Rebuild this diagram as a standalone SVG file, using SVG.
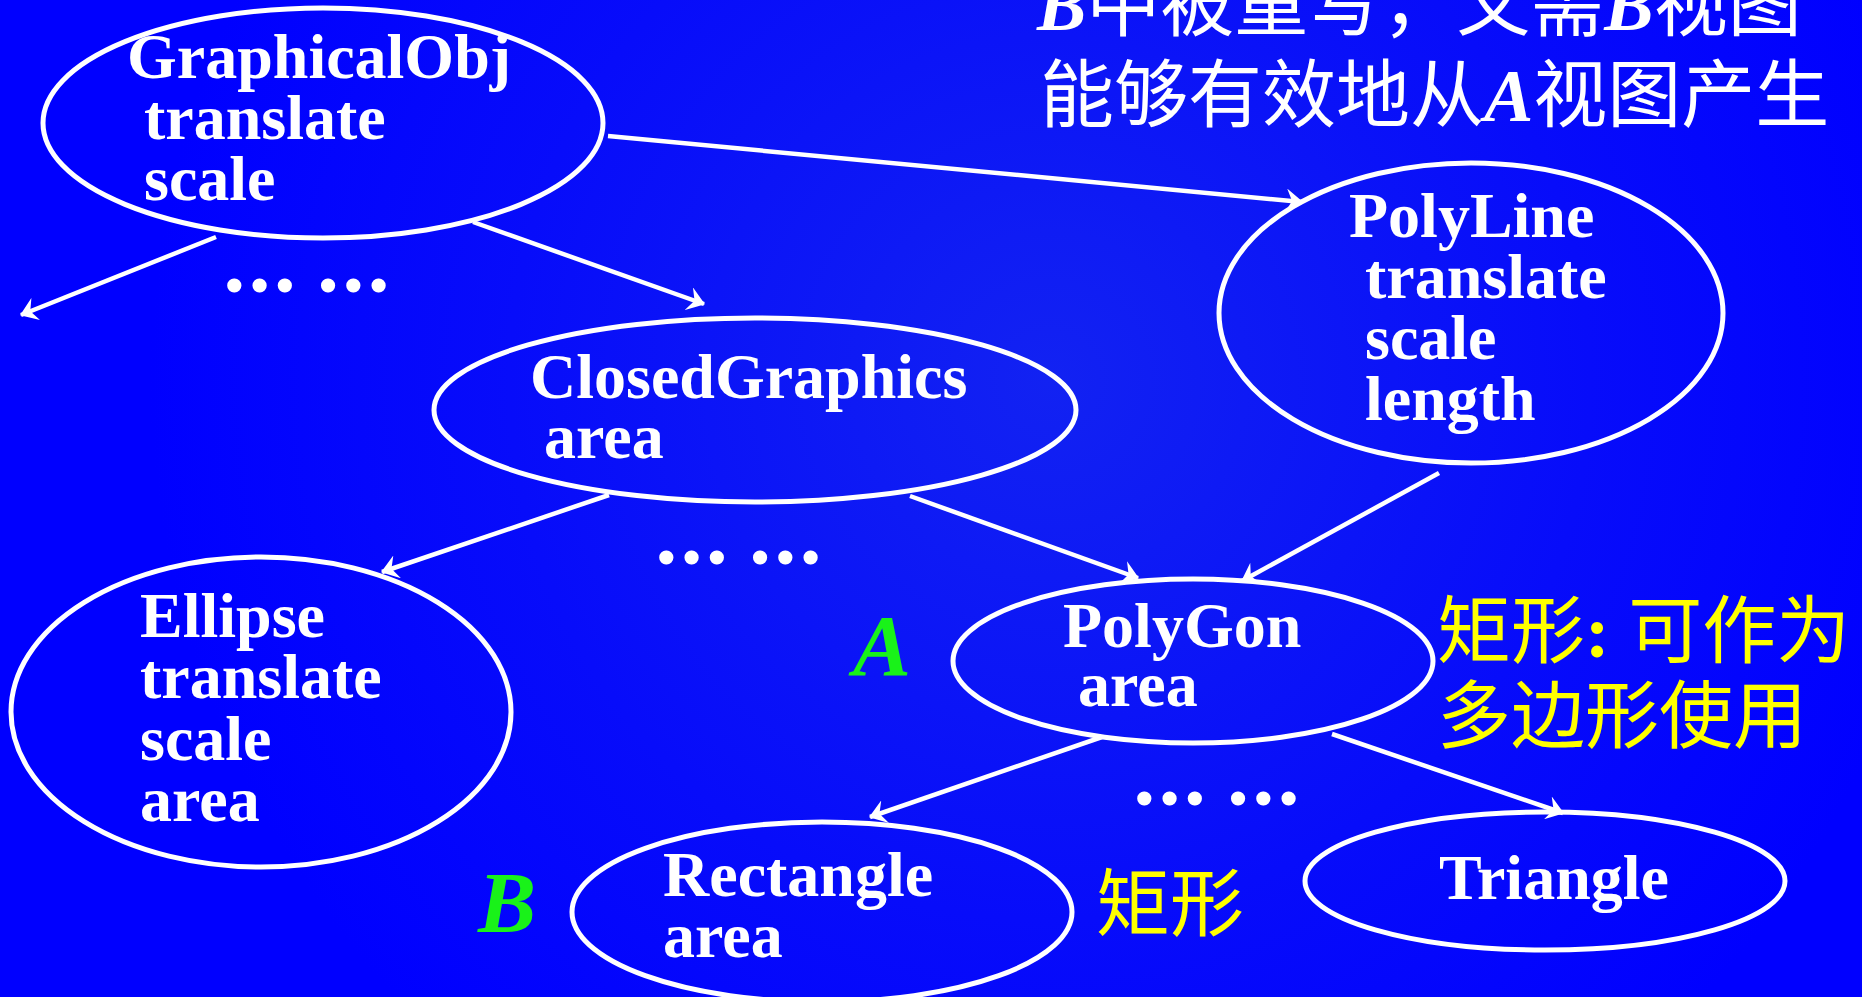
<svg xmlns="http://www.w3.org/2000/svg" width="1862" height="997" viewBox="0 0 1862 997">
  <defs>
    <radialGradient id="bg" cx="1050" cy="380" r="900" gradientUnits="userSpaceOnUse">
      <stop offset="0" stop-color="#1222f2"/>
      <stop offset="0.6" stop-color="#070cfa"/>
      <stop offset="1" stop-color="#0000ff"/>
    </radialGradient>
    <marker id="arr" viewBox="0 0 17 24" refX="16" refY="12" markerWidth="17" markerHeight="24" markerUnits="userSpaceOnUse" orient="auto">
      <path d="M0,0 L17,12 L0,24 L6,12 Z" fill="#ffffff"/>
    </marker>
    <style>
      .el { fill: none; stroke: #ffffff; stroke-width: 5; }
      .cn { fill: none; stroke: #ffffff; stroke-width: 4.5; marker-end: url(#arr); }
      .t { font-family: "Liberation Serif", "Times New Roman", serif; font-weight: bold; font-size: 64px; fill: #ffffff; }
      .dots { font-family: "Liberation Serif", "Times New Roman", serif; font-weight: bold; font-size: 75px; fill: #ffffff; stroke: #ffffff; stroke-width: 2; }
      .lab { font-family: "Liberation Serif", "Times New Roman", serif; font-weight: bold; font-style: italic; font-size: 87px; fill: #19f219; }
      .cw { font-family: "Noto Sans CJK SC", "Liberation Serif", sans-serif; font-size: 74px; fill: #ffffff; }
      .cy { font-family: "Noto Sans CJK SC", "Liberation Serif", sans-serif; font-size: 74px; fill: #ffff00; }
      .it { font-family: "Liberation Serif", "Times New Roman", serif; font-weight: bold; font-style: italic; }
    </style>
  </defs>

  <rect x="0" y="0" width="1862" height="997" fill="url(#bg)"/>

  <g id="connectors">
    <line class="cn" x1="216" y1="237" x2="21" y2="315"/>
    <line class="cn" x1="473" y1="222" x2="704" y2="304"/>
    <line class="cn" x1="608" y1="136" x2="1302" y2="202"/>
    <line class="cn" x1="609" y1="495" x2="382" y2="572"/>
    <line class="cn" x1="910" y1="496" x2="1138" y2="578"/>
    <line class="cn" x1="1439" y1="473" x2="1242" y2="581"/>
    <line class="cn" x1="1102" y1="737" x2="870" y2="817"/>
    <line class="cn" x1="1332" y1="734" x2="1563" y2="813"/>
  </g>

  <g id="graphicalobj">
    <ellipse class="el" cx="323" cy="123" rx="280" ry="115"/>
    <text class="t" x="127" y="78">GraphicalObj</text>
    <text class="t" x="144" y="139">translate</text>
    <text class="t" x="144" y="200">scale</text>
  </g>

  <g id="polyline">
    <ellipse class="el" cx="1471" cy="313" rx="252" ry="150"/>
    <text class="t" x="1349" y="237">PolyLine</text>
    <text class="t" x="1365" y="298">translate</text>
    <text class="t" x="1365" y="359">scale</text>
    <text class="t" x="1365" y="420">length</text>
  </g>

  <g id="closedgraphics">
    <ellipse class="el" cx="755" cy="410" rx="321" ry="92"/>
    <text class="t" x="530" y="398">ClosedGraphics</text>
    <text class="t" x="544" y="458">area</text>
  </g>

  <g id="ellipse">
    <ellipse class="el" cx="261" cy="712" rx="250" ry="155"/>
    <text class="t" x="140" y="637">Ellipse</text>
    <text class="t" x="140" y="698">translate</text>
    <text class="t" x="140" y="760">scale</text>
    <text class="t" x="140" y="821">area</text>
  </g>

  <g id="polygon">
    <ellipse class="el" cx="1193" cy="661" rx="240" ry="82"/>
    <text class="t" x="1063" y="647">PolyGon</text>
    <text class="t" x="1078" y="706">area</text>
  </g>

  <g id="rectangle">
    <ellipse class="el" cx="822" cy="912" rx="250" ry="90"/>
    <text class="t" x="663" y="896">Rectangle</text>
    <text class="t" x="663" y="957">area</text>
  </g>

  <g id="triangle">
    <ellipse class="el" cx="1545" cy="881" rx="240" ry="69"/>
    <text class="t" x="1439" y="899">Triangle</text>
  </g>

  <g id="dots">
    <text class="dots" x="222" y="291">… …</text>
    <text class="dots" x="654" y="563">… …</text>
    <text class="dots" x="1132" y="804">… …</text>
  </g>

  <g id="labels">
    <text class="lab" x="853" y="675">A</text>
    <text class="lab" x="478" y="932">B</text>
  </g>

  <g id="notes">
    <text class="cw" x="1037" y="30"><tspan class="it">B</tspan>中被重写，又需<tspan class="it">B</tspan>视图</text>
    <text class="cw" x="1040" y="121">能够有效地从<tspan class="it">A</tspan>视图产生</text>
    <text class="cy" x="1437" y="657">矩形<tspan font-family="Liberation Serif, serif" font-weight="bold">: </tspan>可作为</text>
    <text class="cy" x="1437" y="742">多边形使用</text>
    <text class="cy" x="1096" y="930">矩形</text>
  </g>
</svg>
